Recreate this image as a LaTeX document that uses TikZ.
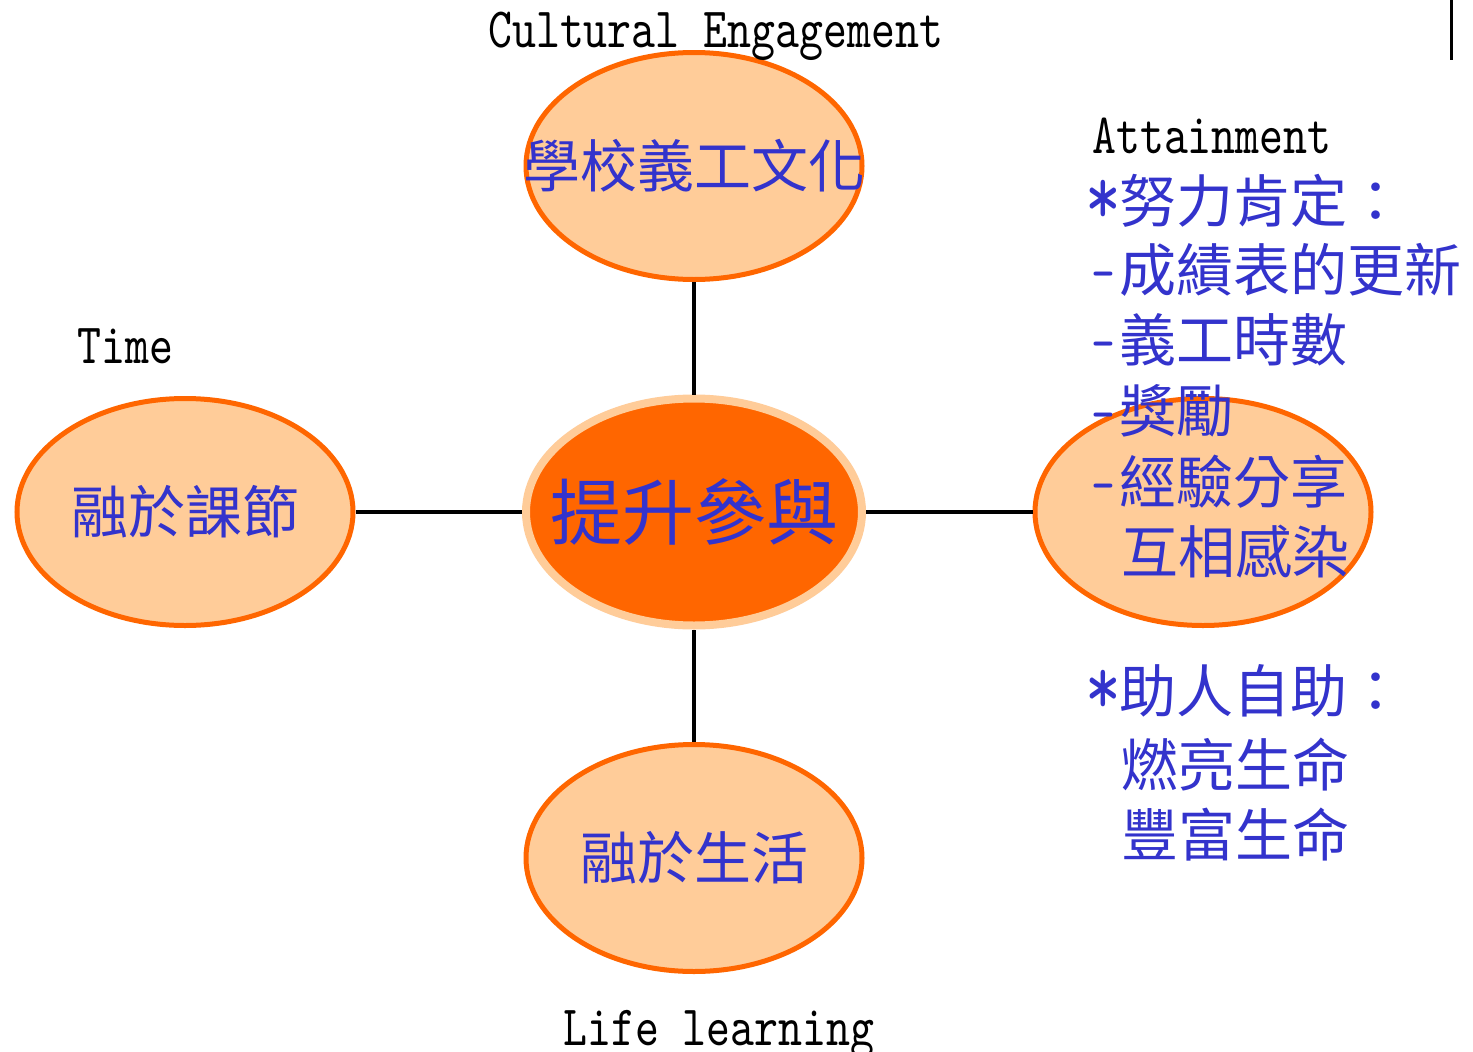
\documentclass[tikz,border=0pt]{standalone}
\usepackage{fontspec}
\usetikzlibrary{shapes.geometric}
\newfontfamily\cjk{Noto Sans CJK TC}
\newfontfamily\lat[Extension=.otf, FakeStretch=0.8]{lmmono10-regular}
\definecolor{ora}{HTML}{FF6600}
\definecolor{pea}{HTML}{FFCC99}
\definecolor{txtblue}{HTML}{3333CC}
\tikzset{
  oval/.style={ellipse, draw=ora, fill=pea, line width=5pt, minimum width=336pt, minimum height=227pt, inner sep=0pt,
    font=\cjk\fontsize{57}{57}\selectfont, text=txtblue},
  hub/.style={ellipse, draw=pea, fill=ora, line width=8pt, minimum width=336pt, minimum height=227pt, inner sep=0pt,
    font=\cjk\fontsize{72}{72}\selectfont, text=txtblue},
  conn/.style={line width=4pt, black},
  eng/.style={anchor=base west, inner sep=0pt, font=\lat\fontsize{57}{57}\selectfont, text=black},
  side/.style={anchor=west, inner sep=0pt, font=\cjk\fontsize{57}{57}\selectfont, text=txtblue},
}
\newcommand{\lt}[1]{\makebox[31pt][c]{\lat\fontsize{57}{57}\selectfont #1}}
\newcommand{\bigstar}{\makebox[31pt][c]{\lat\fontsize{85}{85}\selectfont\raisebox{-2pt}[0pt][0pt]{*}}}
\newcommand{\zw}[1]{\makebox[0pt][c]{#1}}
\begin{document}
\begin{tikzpicture}[x=1pt,y=-1pt]
\useasboundingbox[fill=white] (0,0) rectangle (1473,1052);
% nodes
\node[hub]  (c) at (694,512) {\zw{提升參與}};
\node[oval] (t) at (694,166) {\zw{學校義工文化}};
\node[oval] (l) at (185,512) {\zw{融於課節}};
\node[oval] (r) at (1203,512) {};
\node[oval] (b) at (694,858) {\zw{融於生活}};
% connectors
\draw[conn] (t) -- (c);
\draw[conn] (l) -- (c);
\draw[conn] (r) -- (c);
\draw[conn] (b) -- (c);
% corner mark
\coordinate (v1) at (1451,0);
\coordinate (v2) at (1451,60);
\draw[line width=3pt] (v1) -- (v2);
% english labels
\node[eng] (ce) at (488,47) {Cultural Engagement};
\node[eng] (ti) at (77,363) {Time};
\node[eng] (at) at (1092,153) {Attainment};
\node[eng] (ll) at (563,1045) {Life learning};
% right column
\node[side] (s1) at (1088,201) {\bigstar 努力肯定：};
\node[side] (s2) at (1088,270) {\lt{-}成績表的更新};
\node[side] (s3) at (1088,340) {\lt{-}義工時數};
\node[side] (s4) at (1088,411) {\lt{-}獎勵};
\node[side] (s5) at (1088,482) {\lt{-}經驗分享};
\node[side] (s6) at (1121,552) {互相感染};
\node[side] (s7) at (1088,691) {\bigstar 助人自助：};
\node[side] (s8) at (1121,765) {燃亮生命};
\node[side] (s9) at (1121,835) {豐富生命};
\end{tikzpicture}
\end{document}
